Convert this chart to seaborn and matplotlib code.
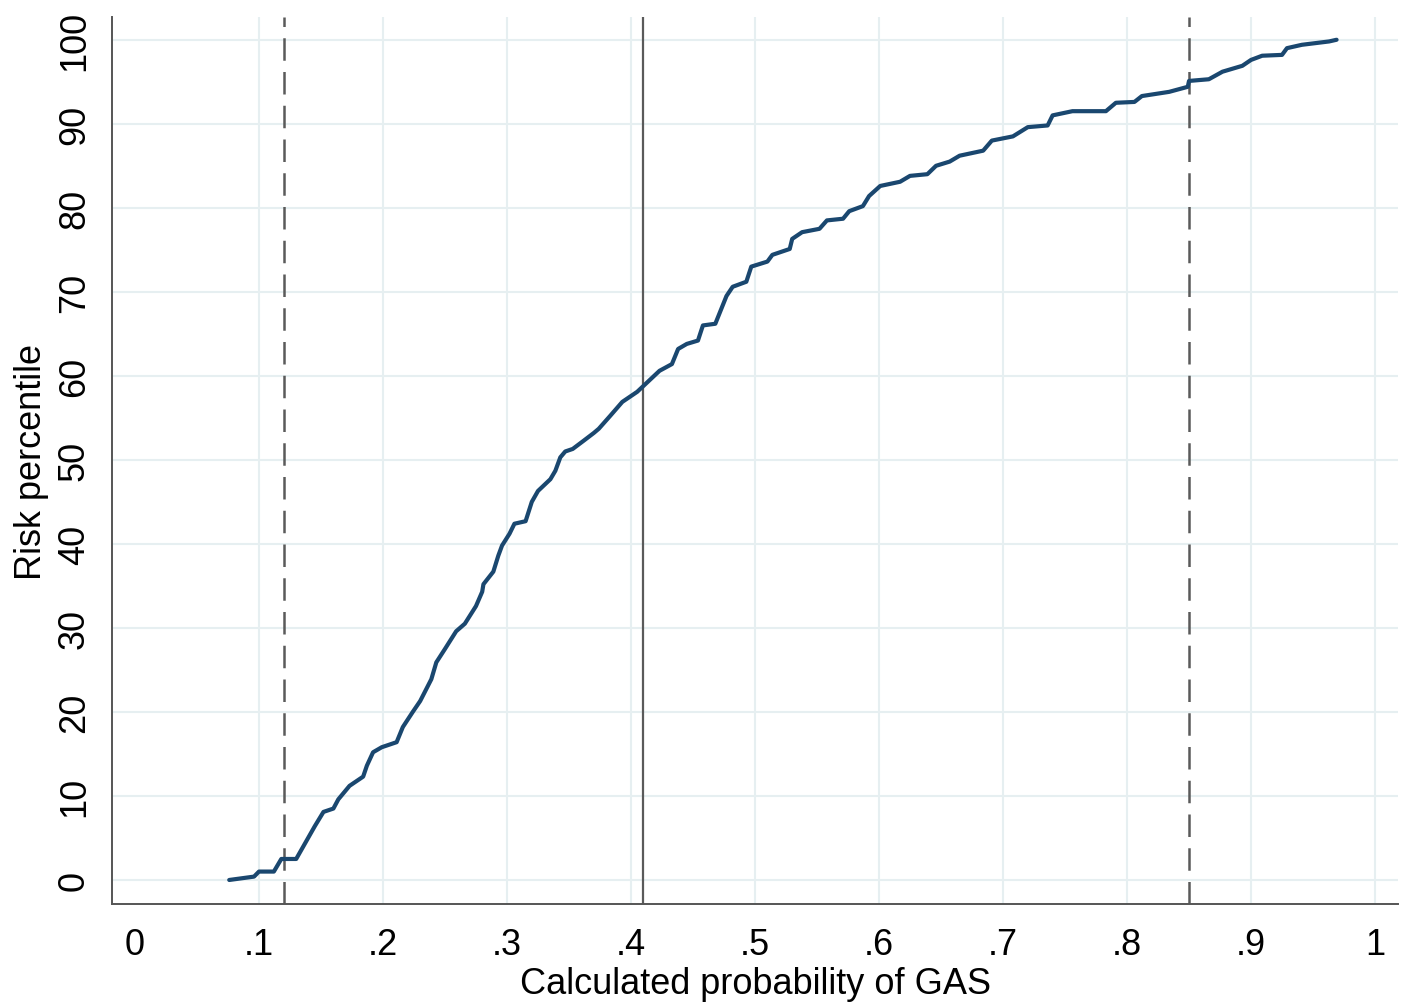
import numpy as np
import pandas as pd
import seaborn as sns
import matplotlib.pyplot as plt


# probabilidad calculada vs percentil de riesgo
prob_gas = [0.076, 0.096, 0.100, 0.112, 0.118, 0.130, 0.145, 0.152, 0.160, 0.164,
            0.173, 0.184, 0.187, 0.192, 0.199, 0.211, 0.216, 0.224, 0.230, 0.239,
            0.243, 0.250, 0.259, 0.266, 0.275, 0.280, 0.281, 0.289, 0.293, 0.296,
            0.302, 0.306, 0.315, 0.320, 0.325, 0.335, 0.339, 0.343, 0.347, 0.353,
            0.362, 0.370, 0.374, 0.383, 0.393, 0.405, 0.423, 0.433, 0.438, 0.445,
            0.454, 0.458, 0.468, 0.477, 0.482, 0.493, 0.497, 0.510, 0.514, 0.528,
            0.530, 0.538, 0.552, 0.558, 0.571, 0.576, 0.587, 0.592, 0.601, 0.617,
            0.625, 0.639, 0.646, 0.657, 0.665, 0.684, 0.691, 0.708, 0.720, 0.736,
            0.740, 0.756, 0.783, 0.791, 0.806, 0.812, 0.834, 0.849, 0.850, 0.866,
            0.877, 0.893, 0.900, 0.909, 0.925, 0.929, 0.941, 0.963, 0.969]

risk_pct = [0.0, 0.4, 1.0, 1.0, 2.5, 2.5, 6.4, 8.1, 8.5, 9.6,
            11.2, 12.3, 13.6, 15.2, 15.8, 16.4, 18.2, 20.0, 21.3, 23.9,
            25.9, 27.5, 29.6, 30.5, 32.6, 34.3, 35.2, 36.7, 38.6, 39.8,
            41.2, 42.4, 42.7, 45.0, 46.3, 47.7, 48.7, 50.3, 51.0, 51.3,
            52.3, 53.2, 53.7, 55.2, 56.9, 58.1, 60.6, 61.4, 63.2, 63.8,
            64.2, 66.0, 66.2, 69.5, 70.6, 71.2, 73.0, 73.6, 74.4, 75.1,
            76.3, 77.1, 77.5, 78.5, 78.7, 79.6, 80.2, 81.4, 82.6, 83.1,
            83.8, 84.0, 85.0, 85.5, 86.2, 86.8, 88.0, 88.5, 89.6, 89.8,
            91.0, 91.5, 91.5, 92.5, 92.6, 93.3, 93.8, 94.4, 95.1, 95.3,
            96.2, 96.9, 97.6, 98.1, 98.2, 99.0, 99.4, 99.8, 100.0]

# lineas verticales: umbrales (discontinuas) y punto medio (continua)
cut_low = 0.12
cut_mid = 0.41
cut_high = 0.85

x_ticks = [0, 0.1, 0.2, 0.3, 0.4, 0.5, 0.6, 0.7, 0.8, 0.9, 1]
x_tick_labels = ['0', '.1', '.2', '.3', '.4', '.5', '.6', '.7', '.8', '.9', '1']
y_ticks = [0, 10, 20, 30, 40, 50, 60, 70, 80, 90, 100]

sns.set_theme(style="white")
plt.rcParams['font.family'] = ['Liberation Sans', 'DejaVu Sans']
plt.rcParams['text.color'] = 'black'
plt.rcParams['axes.labelcolor'] = 'black'

df = pd.DataFrame({'prob': prob_gas, 'pct': risk_pct})

fig = plt.figure(figsize=(14.04, 10.04), dpi=100)
ax = fig.add_axes([0.0798, 0.0986, 0.9159, 0.8834])

# rejilla
grid_color = '#e6eff1'
for xt in x_ticks[1:]:
    ax.axvline(xt, color=grid_color, lw=1.5, zorder=0)
for yt in y_ticks:
    ax.axhline(yt, color=grid_color, lw=1.5, zorder=0)

sns.lineplot(data=df, x='prob', y='pct', sort=False, estimator=None,
             color='#1a476f', lw=3.0, ax=ax, zorder=3)

ax.axvline(cut_low, color='#5a5a5a', lw=1.8, dashes=(9, 4.5), zorder=2)
ax.axvline(cut_mid, color='#5a5a5a', lw=1.6, zorder=2)
ax.axvline(cut_high, color='#5a5a5a', lw=1.8, dashes=(9, 4.5), zorder=2)

ax.set_xlim(-0.0185, 1.0185)
ax.set_ylim(-2.86, 102.7)
ax.set_xticks(x_ticks)
ax.set_xticklabels(x_tick_labels)
ax.set_yticks(y_ticks)

ax.spines['top'].set_visible(False)
ax.spines['right'].set_visible(False)
for s in ['left', 'bottom']:
    ax.spines[s].set_color('#555555')
    ax.spines[s].set_linewidth(1.4)

ax.tick_params(axis='both', direction='out', length=9.5, width=1.4,
               color='#555555', labelsize=26, labelcolor='black')
ax.tick_params(axis='x', pad=7)
ax.tick_params(axis='y', pad=5, labelrotation=90)
for lab in ax.get_yticklabels():
    lab.set_va('center')

ax.set_xlabel('Calculated probability of GAS', fontsize=26, labelpad=3)
ax.set_ylabel('Risk percentile', fontsize=26, labelpad=6)

fig.savefig('out.png', dpi=100)
